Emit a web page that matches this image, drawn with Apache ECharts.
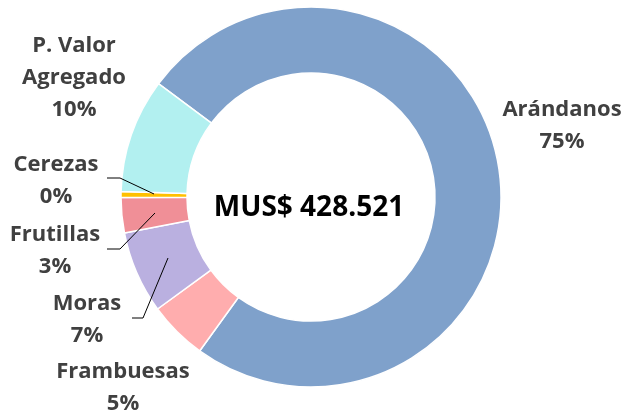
<!DOCTYPE html>
<html>
<head>
<meta charset="utf-8">
<script src="https://cdn.jsdelivr.net/npm/echarts@6/dist/echarts.min.js"></script>
<style>
  html, body { margin: 0; padding: 0; background: #fff; }
  #chartDiv { width: 624px; height: 418px; }
</style>
</head>
<body>
<div id="chartDiv"></div>
<script>
// datos (participación %)
var categories = ["Arándanos", "Frambuesas", "Moras", "Frutillas", "Cerezas", "P. Valor Agregado"];
var shares = [74.8, 5.0, 7.0, 3.0, 0.49, 9.71];
var totalLabel = "MUS$ 428.521";

var colors = ["#7FA1CB", "#FFADAE", "#BAB0E0", "#F08F97", "#FFC000", "#B2F0F0"];

// centro de cada etiqueta y línea guía (solo las chicas)
var labelPos = [[562, 126], [123, 388], [87, 320], [55, 251], [56, 181], [74, 78]];
var linePts = [
    null,
    null,
    [[168, 258], [143, 318], [132, 318]],
    [[155, 213], [120, 249], [107, 249]],
    [[154, 194], [120, 178], [107, 178]],
    null
];

var pieDiv = echarts.init(document.getElementById("chartDiv"));

var pieData = [];
for (var i = 0; i < categories.length; i++) {
    pieData.push({
        name: categories[i],
        value: shares[i],
        itemStyle: { color: colors[i] }
    });
}

var graphics = [{
    type: "text",
    x: 309,
    y: 208,
    style: {
        text: totalLabel,
        align: "center",
        verticalAlign: "middle",
        fontFamily: "Open Sans",
        fontWeight: "bold",
        fontSize: 28,
        fill: "#000"
    }
}];
for (var j = 0; j < linePts.length; j++) {
    if (!linePts[j]) continue;
    graphics.push({
        type: "polyline",
        z: 10,
        shape: { points: linePts[j] },
        style: { stroke: "#000", lineWidth: 1, fill: null }
    });
}

var option = {
    animation: false,
    backgroundColor: "#fff",
    graphic: graphics,
    series: [{
        type: "pie",
        center: [311, 197],
        radius: [124, 190],
        startAngle: 143.4,
        clockwise: true,
        avoidLabelOverlap: false,
        itemStyle: { borderColor: "#fff", borderWidth: 1.5 },
        label: {
            show: true,
            position: "outside",
            fontFamily: "Open Sans",
            fontWeight: "bold",
            fontSize: 22,
            lineHeight: 32,
            color: "#404040",
            align: "center",
            formatter: function (p) {
                return p.name.replace("P. Valor ", "P. Valor\n") + "\n" + Math.round(p.percent) + "%";
            }
        },
        labelLine: { show: false },
        labelLayout: function (params) {
            var idx = params.dataIndex;
            return {
                x: labelPos[idx][0],
                y: labelPos[idx][1],
                align: "center",
                verticalAlign: "middle"
            };
        },
        data: pieData
    }]
};

pieDiv.setOption(option);
</script>
</body>
</html>
